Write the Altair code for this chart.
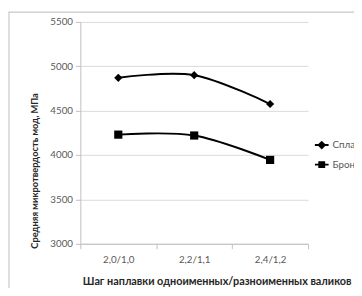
import altair as alt
import pandas as pd

categories = ["2,0/1,0", "2,2/1,1", "2,4/1,2"]
series_names = ["Сплав", "Бронза"]
splav = [4870, 4900, 4575]
bronza = [4230, 4220, 3945]

rows = []
for s, vals in zip(series_names, [splav, bronza]):
    for c, v in zip(categories, vals):
        rows.append({"cat": c, "series": s, "val": v})
df = pd.DataFrame(rows)

FONT = "Lato"
TXT = "#595959"

x = alt.X("cat:N", sort=categories,
          scale=alt.Scale(type="band", paddingInner=0, paddingOuter=0),
          axis=alt.Axis(title="Шаг наплавки одноименных/разноименных валиков",
                        labelAngle=0, tickBand="extent", grid=False,
                        domainColor="#bfbfbf", tickColor="#bfbfbf", tickSize=5,
                        labelPadding=6, labelFontSize=10, labelColor=TXT,
                        titleFontSize=11.1, titleFontWeight="bold", titleColor="#262626",
                        titleAlign="left", titleX=2, titlePadding=12))
y = alt.Y("val:Q", scale=alt.Scale(domain=[3000, 5500], nice=False, zero=False),
          axis=alt.Axis(title="Средняя микротвердость мод, МПа", values=[3000, 3500, 4000, 4500, 5000, 5500],
                        format="d",
                        gridColor="#d9d9d9", domainColor="#bfbfbf", tickColor="#bfbfbf",
                        tickSize=5, labelPadding=3, labelFontSize=10, labelColor=TXT,
                        titleFontSize=9.5, titleFontWeight="bold", titleColor="#262626",
                        titleY=152, titleX=-47, titleAngle=-90, titleBaseline="middle",
                        titleAlign="center"))

color_scale = alt.Scale(domain=series_names, range=["black", "black"])

lines = alt.Chart(df).mark_line(interpolate="cardinal", strokeWidth=2).encode(
    x=x, y=y,
    color=alt.Color("series:N", scale=color_scale, legend=None),
    detail="series:N")

points = alt.Chart(df).mark_point(filled=True, opacity=1, size=70).encode(
    x=x, y=y,
    color=alt.Color("series:N", scale=color_scale, legend=None),
    shape=alt.Shape("series:N", scale=alt.Scale(domain=series_names, range=["diamond", "square"]), legend=None))

legend_paths = [
    "M-1,-0.14L1,-0.14L1,0.14L-1,0.14ZM0,-0.64L0.64,0L0,0.64L-0.64,0Z",
    "M-1,-0.14L1,-0.14L1,0.14L-1,0.14ZM-0.5,-0.5L0.5,-0.5L0.5,0.5L-0.5,0.5Z",
]
legend_layer = alt.Chart(df).transform_filter("datum.cat == '2,0/1,0'").mark_point(
    filled=True, opacity=0, color="black", fill="black").encode(
    x=x, y=y,
    shape=alt.Shape("series:N", scale=alt.Scale(domain=series_names, range=legend_paths),
                    sort=series_names,
                    legend=alt.Legend(title=None, orient="none", legendX=240, legendY=119,
                                      symbolSize=196, symbolFillColor="black", symbolStrokeColor="black",
                                      symbolStrokeWidth=0, symbolOpacity=1,
                                      labelFontSize=10, labelColor=TXT, labelOffset=4,
                                      rowPadding=8)))

border_data = pd.DataFrame({"a": [0]})
border = alt.Chart(border_data).mark_rect(
    stroke="#c8c8c8", strokeWidth=1.2, fill="white", fillOpacity=0).encode(
    x=alt.value(-73), x2=alt.value(400), y=alt.value(-10), y2=alt.value(400))

chart = alt.layer(border, lines, points, legend_layer).resolve_scale(shape="independent").properties(
    width=233, height=227,
    autosize=alt.AutoSizeParams(type="none"),
    padding={"left": 74, "top": 11, "right": 47, "bottom": 42},
).configure(font=FONT).configure_view(stroke=None)

chart.save("out.html", embed_options={"renderer": "svg", "actions": False})
